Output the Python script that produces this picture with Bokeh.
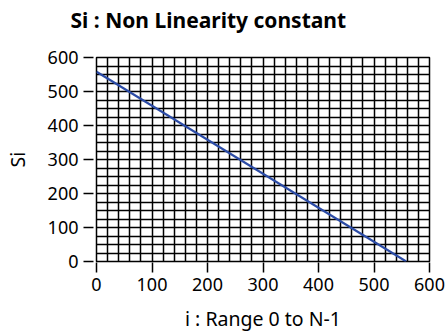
from bokeh.plotting import figure
from bokeh.models import Title, SingleIntervalTicker, FixedTicker, Range1d
from bokeh.embed import file_html
from bokeh.resources import INLINE

# data
i_vals = [0, 558]
si_vals = [558, 0]
x_ticks = [0, 100, 200, 300, 400, 500, 600]
y_ticks = [0, 100, 200, 300, 400, 500, 600]
title_text = "Si : Non Linearity constant"
x_label = "i : Range 0 to N-1"
y_label = "Si"

FONT = "Noto Sans"

p = figure(width=446, height=335, output_backend="svg", toolbar_location=None,
           x_range=Range1d(0, 600), y_range=Range1d(0, 600),
           min_border_left=96, min_border_right=17, min_border_top=57, min_border_bottom=74)
p.title.text = title_text
p.title.text_font = FONT
p.title.text_font_size = "21px"
p.title.text_font_style = "bold"
p.title.text_color = "black"
p.title.align = "left"
p.title.offset = -26
p.title.vertical_align = "top"
p.title.standoff = 6

# white spacer between title and frame
spacer = Title(text=".", text_font_size="10px", text_color="white", standoff=9)
p.add_layout(spacer, "above")

p.background_fill_color = "white"
p.border_fill_color = "white"
p.outline_line_color = "black"
p.outline_line_width = 1.5

p.line(i_vals, si_vals, line_color="#2b4ba6", line_width=2.2)

# grids
p.xgrid.ticker = SingleIntervalTicker(interval=20)
p.ygrid.ticker = SingleIntervalTicker(interval=25)
for g in (p.xgrid, p.ygrid):
    g.grid_line_color = "black"
    g.grid_line_width = 1.5
    g.grid_line_alpha = 1.0

# axes
p.xaxis.ticker = FixedTicker(ticks=x_ticks)
p.yaxis.ticker = FixedTicker(ticks=y_ticks)
for ax in (p.xaxis, p.yaxis):
    ax.axis_line_color = None
    ax.minor_tick_line_color = None
    ax.major_tick_line_color = "black"
    ax.major_tick_line_width = 1.5
    ax.major_label_text_font = FONT
    ax.major_label_text_font_size = "18px"
    ax.major_label_text_color = "black"
    ax.axis_label_text_font = FONT
    ax.axis_label_text_font_size = "19.5px"
    ax.axis_label_text_font_style = "normal"
    ax.axis_label_text_color = "black"

p.yaxis.major_tick_in = -3
p.yaxis.major_tick_out = 13
p.yaxis.major_label_standoff = 5
p.yaxis.axis_label = y_label
p.yaxis.axis_label_standoff = 14

p.xaxis.major_tick_in = -1
p.xaxis.major_tick_out = 11
p.xaxis.major_label_standoff = 5
p.xaxis.axis_label = x_label
p.xaxis.axis_label_standoff = 11

open("out.html", "w").write(file_html(p, INLINE))
